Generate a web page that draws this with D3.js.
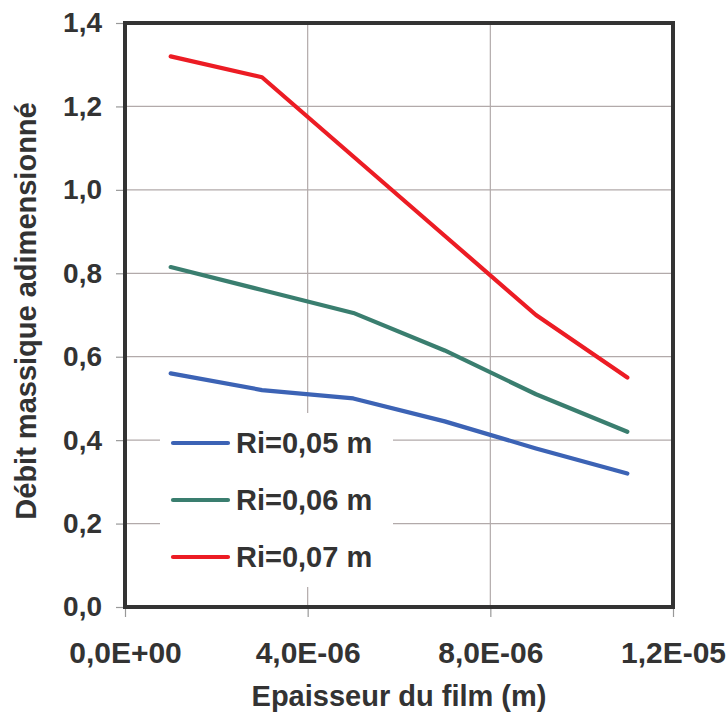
<!DOCTYPE html>
<html><head><meta charset="utf-8">
<script src="https://cdn.jsdelivr.net/npm/d3@7"></script>
<style>body{margin:0;background:#fff}svg{display:block;font-family:"Liberation Sans",Arial,Helvetica,sans-serif;font-weight:bold}</style>
</head><body><svg id="c" width="728" height="716"></svg>
<script>
const xValues = [1e-6, 3e-6, 5e-6, 7e-6, 9e-6, 1.1e-5];
const seriesNames = ["Ri=0,05 m", "Ri=0,06 m", "Ri=0,07 m"];
const ri005 = [0.56, 0.52, 0.50, 0.445, 0.38, 0.32];
const ri006 = [0.815, 0.76, 0.705, 0.615, 0.51, 0.42];
const ri007 = [1.32, 1.27, 1.08, 0.89, 0.70, 0.55];
const seriesColors = ["#3c63b5", "#3a7e6f", "#ec1c24"];
const xTicks = [0, 4e-6, 8e-6, 1.2e-5];
const xTickLabels = ["0,0E+00", "4,0E-06", "8,0E-06", "1,2E-05"];
const yTicks = [0, 0.2, 0.4, 0.6, 0.8, 1.0, 1.2, 1.4];
const yTickLabels = ["0,0", "0,2", "0,4", "0,6", "0,8", "1,0", "1,2", "1,4"];
const xTitle = "Epaisseur du film (m)";
const yTitle = "Débit massique adimensionné";

const svg = d3.select("#c");
const L = 125, R = 673, T = 23, B = 607;
const x = d3.scaleLinear().domain([0, 1.2e-5]).range([L, R]);
const y = d3.scaleLinear().domain([0, 1.4]).range([B, T]);
const txt = "#333";
const grid = "#b2aaaa";
const ff = '"Liberation Sans",Arial,sans-serif';

// gridlines
svg.append("g").selectAll("line").data(yTicks.slice(1, -1)).join("line")
  .attr("x1", L).attr("x2", R).attr("y1", d => y(d)).attr("y2", d => y(d))
  .attr("stroke", grid).attr("stroke-width", 1.2);
svg.append("g").selectAll("line").data(xTicks.slice(1, -1)).join("line")
  .attr("y1", T).attr("y2", B).attr("x1", d => x(d)).attr("x2", d => x(d))
  .attr("stroke", grid).attr("stroke-width", 1.2);

// axes (ticks + labels)
const ya = svg.append("g").attr("transform", `translate(${L},0)`)
  .call(d3.axisLeft(y).tickValues(yTicks).tickSize(9).tickPadding(14)
    .tickFormat((d, i) => yTickLabels[i]));
const xa = svg.append("g").attr("transform", `translate(0,${B})`)
  .call(d3.axisBottom(x).tickValues(xTicks).tickSize(10).tickPadding(25)
    .tickFormat((d, i) => xTickLabels[i]));
[ya, xa].forEach(g => {
  g.select(".domain").remove();
  g.selectAll(".tick line").attr("stroke", "#999").attr("stroke-width", 1.2);
  g.selectAll(".tick text").attr("fill", txt).style("font-weight", "bold").style("font-family", ff);
});
ya.selectAll(".tick text").style("font-size", "28px");
xa.selectAll(".tick text").style("font-size", "30px");

// legend background (hides grid)
svg.append("rect").attr("x", 160).attr("y", 413).attr("width", 233).attr("height", 174).attr("fill", "#fff");

// series
const series = [ri005, ri006, ri007];
const line = d3.line().x((d, i) => x(xValues[i])).y(d => y(d));
series.forEach((s, k) => {
  svg.append("path").attr("d", line(s)).attr("fill", "none")
    .attr("stroke", seriesColors[k]).attr("stroke-width", 4.2)
    .attr("stroke-linejoin", "round").attr("stroke-linecap", "round");
});

// frame
svg.append("rect").attr("x", L).attr("y", T).attr("width", R - L).attr("height", B - T)
  .attr("fill", "none").attr("stroke", "#333").attr("stroke-width", 4);

// legend
const lg = svg.append("g");
seriesNames.forEach((n, k) => {
  const ly = 443 + k * 57;
  lg.append("line").attr("x1", 173).attr("x2", 228).attr("y1", ly).attr("y2", ly)
    .attr("stroke", seriesColors[k]).attr("stroke-width", 4.2).attr("stroke-linecap", "round");
  lg.append("text").attr("x", 236).attr("y", ly).attr("dy", "0.36em")
    .attr("fill", txt).style("font-size", "29px").text(n);
});

// titles
svg.append("text").attr("x", 399).attr("y", 706).attr("text-anchor", "middle")
  .attr("fill", txt).style("font-size", "29px").text(xTitle);
svg.append("text").attr("transform", "translate(36,311) rotate(-90)").attr("text-anchor", "middle")
  .attr("fill", txt).style("font-size", "29px").text(yTitle);
</script></body></html>
